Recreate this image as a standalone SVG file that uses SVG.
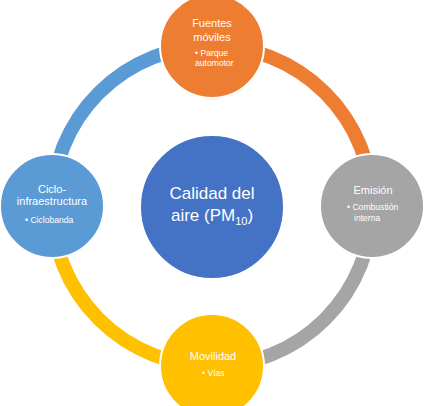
<svg xmlns="http://www.w3.org/2000/svg" width="432" height="406" viewBox="0 0 432 406">
<style>
.arc{fill:none;stroke-width:14}
.node{stroke:#fff;stroke-width:2}
text{font-family:"Liberation Sans",Arial,sans-serif;fill:#fff}
.t{font-size:11px;text-anchor:middle}
.s{font-size:8.6px}
.c{font-size:17px;text-anchor:middle}
</style>
<rect width="432" height="406" fill="#fff"/>
<g id="connectors">
<path class="arc" stroke="#5B9BD5" d="M52,206 A160,160 0 0 1 212,46"/>
<path class="arc" stroke="#ED7D31" d="M212,46 A160,160 0 0 1 372,206"/>
<path class="arc" stroke="#A5A5A5" d="M372,206 A160,160 0 0 1 212,366"/>
<path class="arc" stroke="#FFC000" d="M212,366 A160,160 0 0 1 52,206"/>
</g>
<g id="center">
<circle class="node" cx="212" cy="207" r="72" fill="#4472C4"/>
<text class="c" x="212" y="199">Calidad del</text>
<text class="c" x="212" y="221">aire (PM<tspan font-size="11" dy="4">10</tspan><tspan dy="-4">)</tspan></text>
</g>
<g id="top">
<circle class="node" cx="212" cy="46" r="52" fill="#ED7D31"/>
<text class="t" x="212" y="27">Fuentes</text>
<text class="t" x="212" y="41">móviles</text>
<text class="s" x="195" y="56">• Parque</text>
<text class="s" x="195" y="66">automotor</text>
</g>
<g id="right">
<circle class="node" cx="372" cy="206" r="52" fill="#A5A5A5"/>
<text class="t" x="373" y="194">Emisión</text>
<text class="s" x="347" y="210">• Combustión</text>
<text class="s" x="354" y="221">interna</text>
</g>
<g id="bottom">
<circle class="node" cx="212" cy="366" r="52" fill="#FFC000"/>
<text class="t" x="213" y="360">Movilidad</text>
<text class="s" x="202" y="376">• Vías</text>
</g>
<g id="left">
<circle class="node" cx="52" cy="206" r="52" fill="#5B9BD5"/>
<text class="t" x="52" y="193">Ciclo-</text>
<text class="t" x="52" y="205">infraestructura</text>
<text class="s" x="25" y="223">• Ciclobanda</text>
</g>
</svg>
